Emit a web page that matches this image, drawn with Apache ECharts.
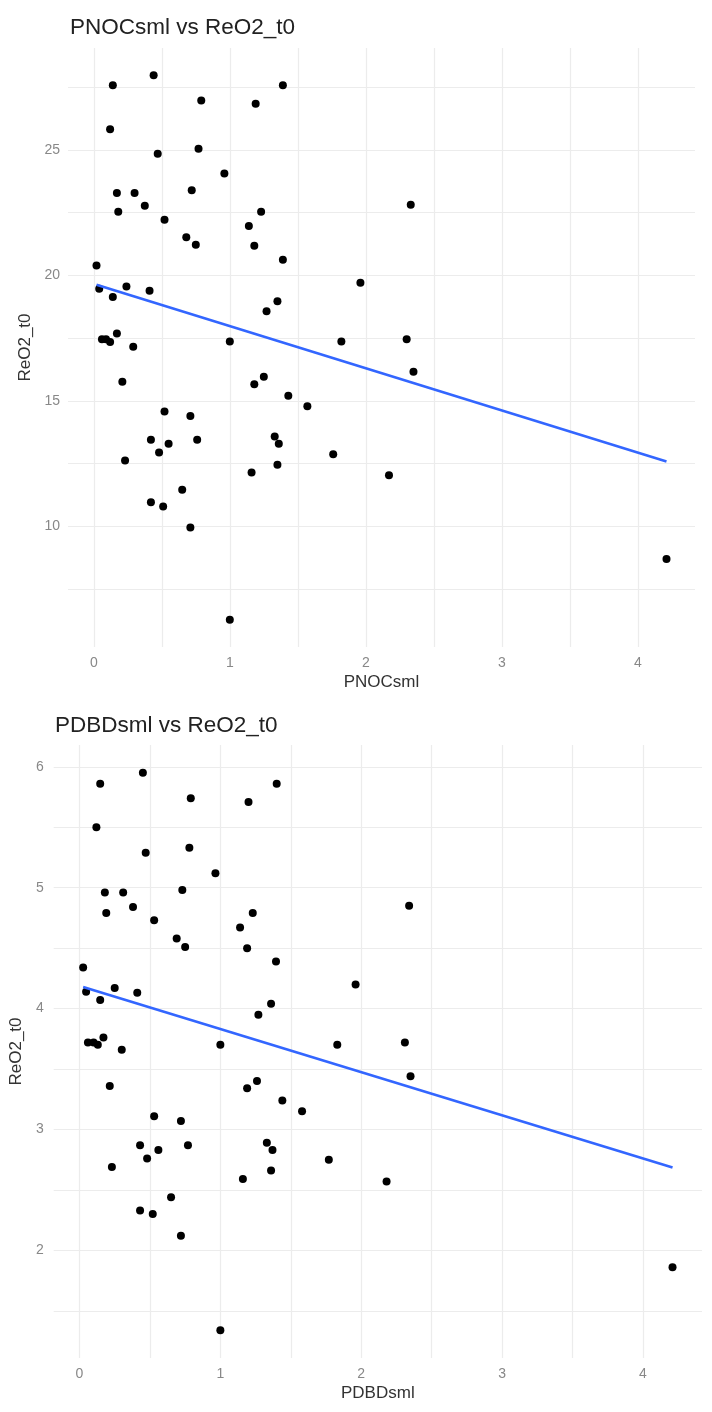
<!DOCTYPE html>
<html>
<head>
<meta charset="UTF-8">
<title>PNOCsml / PDBDsml vs ReO2_t0</title>
<script src="https://cdn.jsdelivr.net/npm/echarts@6/dist/echarts.min.js"></script>
<style>
  html, body { margin: 0; padding: 0; background: #fff; }
  #main { width: 712px; height: 1412px; }
</style>
</head>
<body>
<div id="main"></div>
<script>
// values
var pnocX = [0.14, 0.44, 1.39, 0.79, 1.19, 0.12, 0.47, 0.77, 0.96, 0.17,
  0.30, 0.72, 0.375, 0.18, 1.23, 0.52, 1.14, 0.68, 0.75, 1.18,
  1.39, 0.02, 0.04, 0.24, 0.41, 0.14, 1.35, 1.27, 0.06, 0.09,
  0.12, 0.17, 0.29, 1.00, 1.82, 1.96, 2.33, 2.30, 0.21, 0.52,
  0.71, 0.42, 0.55, 0.76, 0.48, 0.23, 0.42, 0.51, 0.65, 0.71,
  1.00, 1.18, 1.25, 1.43, 1.57, 1.33, 1.36, 1.35, 1.16, 1.76,
  2.35, 2.17, 4.21];
var pnocY = [27.58, 27.98, 27.58, 26.97, 26.84, 25.83, 24.85, 25.05, 24.06, 23.29,
  23.29, 23.40, 22.78, 22.54, 22.54, 22.22, 21.97, 21.52, 21.22, 21.18,
  20.63, 20.40, 19.47, 19.56, 19.39, 19.14, 18.97, 18.57, 17.46, 17.46,
  17.35, 17.69, 17.16, 17.37, 17.37, 19.71, 22.82, 17.46, 15.77, 14.58,
  14.40, 13.45, 13.29, 13.45, 12.95, 12.63, 10.96, 10.79, 11.46, 9.96,
  6.28, 15.67, 15.96, 15.21, 14.79, 13.58, 13.29, 12.46, 12.15, 12.88,
  16.16, 12.04, 8.70];

var pdbdX = [0.147, 0.45, 1.40, 0.79, 1.20, 0.12, 0.47, 0.78, 0.965, 0.18,
  0.31, 0.73, 0.38, 0.19, 1.23, 0.53, 1.14, 0.69, 0.75, 1.19,
  1.395, 0.026, 0.047, 0.25, 0.41, 0.147, 1.36, 1.27, 0.06, 0.10,
  0.13, 0.17, 0.30, 1.00, 1.83, 1.96, 2.34, 2.31, 0.215, 0.53,
  0.72, 0.43, 0.56, 0.77, 0.48, 0.23, 0.43, 0.52, 0.65, 0.72,
  1.00, 1.19, 1.26, 1.44, 1.58, 1.33, 1.37, 1.36, 1.16, 1.77,
  2.35, 2.18, 4.21];
var pdbdY = [5.86, 5.95, 5.86, 5.74, 5.71, 5.50, 5.29, 5.33, 5.12, 4.96,
  4.96, 4.98, 4.84, 4.79, 4.79, 4.73, 4.67, 4.58, 4.51, 4.50,
  4.39, 4.34, 4.14, 4.17, 4.13, 4.07, 4.04, 3.95, 3.72, 3.72,
  3.70, 3.76, 3.66, 3.70, 3.70, 4.20, 4.85, 3.72, 3.36, 3.11,
  3.07, 2.87, 2.83, 2.87, 2.76, 2.69, 2.33, 2.30, 2.44, 2.12,
  1.34, 3.34, 3.40, 3.24, 3.15, 2.89, 2.83, 2.66, 2.59, 2.75,
  3.44, 2.57, 1.86];

var xTicks = [0, 1, 2, 3, 4];
var xGrid = [0, 0.5, 1, 1.5, 2, 2.5, 3, 3.5, 4];
var pnocYTicks = [10, 15, 20, 25];
var pnocYGrid = [7.5, 10, 12.5, 15, 17.5, 20, 22.5, 25, 27.5];
var pdbdYTicks = [2, 3, 4, 5, 6];
var pdbdYGrid = [1.5, 2, 2.5, 3, 3.5, 4, 4.5, 5, 5.5, 6];

var FONT = 'Liberation Sans';

// ggplot style 5% expansion of the data range
function expand(arr) {
  var lo = Math.min.apply(null, arr), hi = Math.max.apply(null, arr);
  var pad = (hi - lo) * 0.05;
  return [lo - pad, hi + pad];
}

// least squares line over the x range of the data
function lmLine(xs, ys) {
  var n = xs.length, mx = 0, my = 0;
  for (var i = 0; i < n; i++) { mx += xs[i]; my += ys[i]; }
  mx /= n; my /= n;
  var sxy = 0, sxx = 0;
  for (var j = 0; j < n; j++) {
    sxy += (xs[j] - mx) * (ys[j] - my);
    sxx += (xs[j] - mx) * (xs[j] - mx);
  }
  var b = sxy / sxx, a = my - b * mx;
  var x0 = Math.min.apply(null, xs), x1 = Math.max.apply(null, xs);
  return [[x0, a + b * x0], [x1, a + b * x1]];
}

function pairs(xs, ys) {
  return xs.map(function (x, i) { return [x, ys[i]]; });
}

function makeX(idx, xs, name) {
  var r = expand(xs);
  return {
    type: 'value', gridIndex: idx, min: r[0], max: r[1],
    name: name, nameLocation: 'middle', nameGap: 27,
    nameTextStyle: { color: '#333', fontSize: 17, fontFamily: FONT },
    axisLine: { show: false },
    axisTick: { show: false, customValues: xGrid },
    axisLabel: { customValues: xTicks, color: '#888', fontSize: 14, fontFamily: FONT, margin: 9 },
    splitLine: { show: true, lineStyle: { color: '#ececec', width: 1.2 } }
  };
}

function makeY(idx, ys, ticks, gridVals, gap, margin) {
  var r = expand(ys);
  return {
    type: 'value', gridIndex: idx, min: r[0], max: r[1],
    name: 'ReO2_t0', nameLocation: 'middle', nameGap: gap, nameRotate: 90,
    nameTextStyle: { color: '#333', fontSize: 17, fontFamily: FONT },
    axisLine: { show: false },
    axisTick: { show: false, customValues: gridVals },
    axisLabel: { customValues: ticks, color: '#888', fontSize: 14, fontFamily: FONT, margin: margin },
    splitLine: { show: true, lineStyle: { color: '#ececec', width: 1.2 } }
  };
}

var myChart = echarts.init(document.getElementById('main'));

var option = {
  backgroundColor: '#fff',
  animation: false,
  title: [
    { text: 'PNOCsml vs ReO2_t0', left: 65, top: 11,
      textStyle: { color: '#222', fontSize: 22.5, fontWeight: 'normal', fontFamily: FONT } },
    { text: 'PDBDsml vs ReO2_t0', left: 50, top: 709,
      textStyle: { color: '#222', fontSize: 22.5, fontWeight: 'normal', fontFamily: FONT } }
  ],
  grid: [
    { left: 68, right: 17, top: 48, bottom: 765 },
    { left: 53, right: 10, top: 745, bottom: 54 }
  ],
  xAxis: [
    makeX(0, pnocX, 'PNOCsml'),
    makeX(1, pdbdX, 'PDBDsml')
  ],
  yAxis: [
    makeY(0, pnocY, pnocYTicks, pnocYGrid, 33, 8),
    makeY(1, pdbdY, pdbdYTicks, pdbdYGrid, 27, 10)
  ],
  series: [
    { type: 'scatter', xAxisIndex: 0, yAxisIndex: 0, data: pairs(pnocX, pnocY),
      symbolSize: 8, itemStyle: { color: '#000', opacity: 1 }, z: 3 },
    { type: 'line', xAxisIndex: 0, yAxisIndex: 0, data: lmLine(pnocX, pnocY),
      showSymbol: false, lineStyle: { color: '#3366ff', width: 2.6 }, z: 4 },
    { type: 'scatter', xAxisIndex: 1, yAxisIndex: 1, data: pairs(pdbdX, pdbdY),
      symbolSize: 8, itemStyle: { color: '#000', opacity: 1 }, z: 3 },
    { type: 'line', xAxisIndex: 1, yAxisIndex: 1, data: lmLine(pdbdX, pdbdY),
      showSymbol: false, lineStyle: { color: '#3366ff', width: 2.6 }, z: 4 }
  ]
};

myChart.setOption(option);
</script>
</body>
</html>
